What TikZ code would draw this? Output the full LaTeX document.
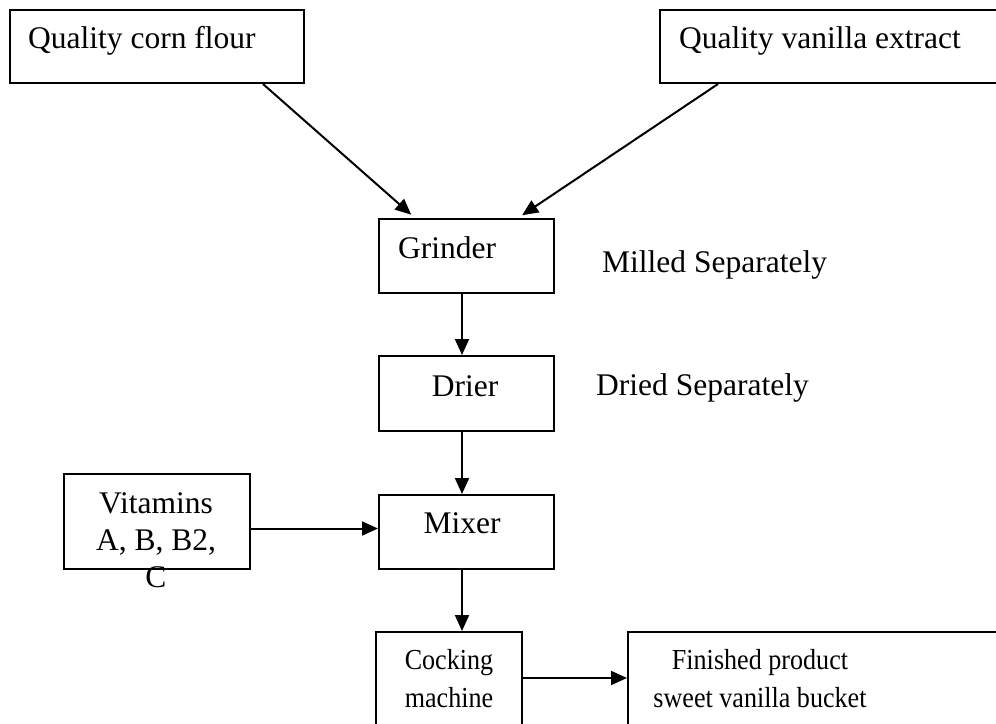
\documentclass[tikz,border=0pt]{standalone}
\usepackage{graphicx}
\usepackage{fontspec}
\setmainfont{Liberation Serif}
\usetikzlibrary{arrows.meta,calc}
\newcommand{\narrowtxt}[1]{\scalebox{0.9}[1]{#1}}
\begin{document}
\begin{tikzpicture}[x=1pt,y=-1pt,
  box/.style={draw,line width=2pt,inner sep=0pt,anchor=north west},
  lbl/.style={inner sep=0pt,font=\fontsize{31.5}{37.5}\selectfont},
  slbl/.style={inner sep=0pt,font=\fontsize{29}{38}\selectfont},
  arr/.style={line width=2pt,-{Triangle[length=16pt,width=14pt]}}]
\useasboundingbox (0,0) rectangle (996,723);
\clip (0,0) rectangle (996,723);
% boxes
\node[box,minimum width=294pt,minimum height=73pt] (cf) at (9,9) {};
\node[box,minimum width=360pt,minimum height=73pt] (va) at (659,9) {};
\node[box,minimum width=175pt,minimum height=74pt] (gr) at (378,218) {};
\node[box,minimum width=175pt,minimum height=75pt] (dr) at (378,355) {};
\node[box,minimum width=175pt,minimum height=74pt] (mx) at (378,494) {};
\node[box,minimum width=186pt,minimum height=95pt] (vit) at (63,473) {};
\node[box,minimum width=146pt,minimum height=110pt] (ck) at (375,631) {};
\node[box,minimum width=400pt,minimum height=110pt] (fp) at (627,631) {};
% texts
\node[lbl,anchor=base west] (tcf) at (28,48) {Quality corn flour};
\node[lbl,anchor=base west] (tva) at (679,48) {Quality vanilla extract};
\node[lbl,anchor=base west] (tgr) at (398,258) {Grinder};
\node[lbl,anchor=base west] (tms) at (602,272) {Milled Separately};
\node[lbl,anchor=base] (tdr) at (465,396) {Drier};
\node[lbl,anchor=base west] (tds) at (596,395) {Dried Separately};
\node[lbl,anchor=base] (tmx) at (462,533) {Mixer};
\node[lbl,anchor=base] (tv1) at (156,513) {Vitamins};
\node[lbl,anchor=base] (tv2) at (156,550) {A, B, B2,};
\node[lbl,anchor=base] (tv3) at (156,587) {C};
\node[slbl,anchor=base] (tc1) at (449,669) {\narrowtxt{Cocking}};
\node[slbl,anchor=base] (tc2) at (449,707) {\narrowtxt{machine}};
\node[slbl,anchor=base] (tf1) at (760,669) {\narrowtxt{Finished product}};
\node[slbl,anchor=base] (tf2) at (760,707) {\narrowtxt{sweet vanilla bucket}};
% connectors
\draw[arr,shorten >=5pt] ([xshift=254pt]cf.south west) -- ([xshift=37pt]gr.north west);
\draw[arr,shorten >=5pt] ([xshift=59pt]va.south west) -- ([xshift=140pt]gr.north west);
\draw[arr] ([xshift=84pt]gr.south west) -- ([xshift=84pt]dr.north west);
\draw[arr] ([xshift=84pt]dr.south west) -- ([xshift=84pt]mx.north west);
\coordinate (va1) at ([yshift=-7pt]vit.east);
\draw[arr] (va1) -- (va1 -| mx.west);
\draw[arr] ([xshift=84pt]mx.south west) -- ([xshift=87pt]ck.north west);
\coordinate (ca1) at ([yshift=9pt]ck.west -| ck.east);
\draw[arr] (ca1) -- (ca1 -| fp.west);
\end{tikzpicture}
\end{document}
